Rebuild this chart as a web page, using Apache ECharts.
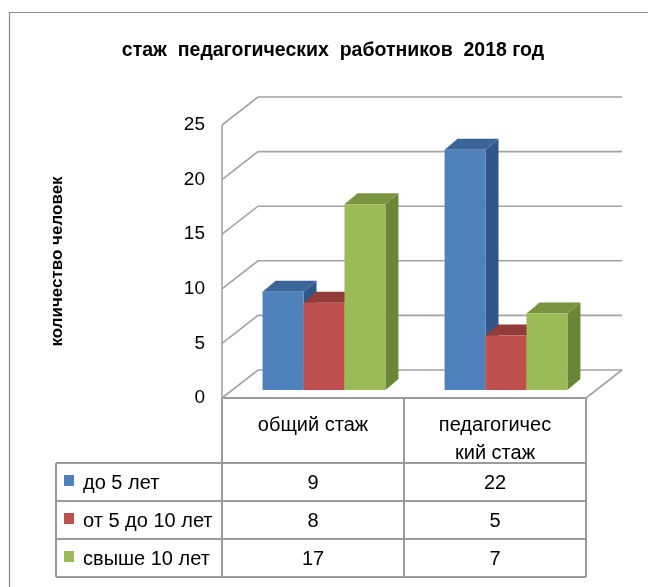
<!DOCTYPE html>
<html><head><meta charset="utf-8">
<script src="https://cdn.jsdelivr.net/npm/echarts@6/dist/echarts.min.js"></script>
<style>html,body{margin:0;padding:0;background:#fff}#c{width:648px;height:587px}</style>
</head><body><div id="c"></div>
<script>
// ---- data ----
const categories = ['общий стаж', 'педагогический стаж'];
const seriesNames = ['до 5 лет', 'от 5 до 10 лет', 'свыше 10 лет'];
const under5 = [9, 22];
const from5to10 = [8, 5];
const over10 = [17, 7];
const yTicks = [0, 5, 10, 15, 20, 25];
const titleText = 'стаж  педагогических  работников  2018 год';
const yTitle = 'количество человек';

// ---- style ----
const FONT = '"Liberation Sans", Arial, sans-serif';
const palette = [
  {front: '#4F81BD', top: '#3B6598', side: '#31578A'},
  {front: '#C0504D', top: '#933B39', side: '#8A3533'},
  {front: '#9BBB59', top: '#789440', side: '#6B8736'}
];
const GRID_C = '#a3a3a3';
const TABLE_C = '#9a9a9a';
const WALL = [36, -28];
const BAR_OFF = [11, -8];
const BAR_DEPTH = [13, -11];
const BAR_FRAC = 0.225;
const TFS = 20; // table font size

const seriesData = [under5, from5to10, over10];

function barRender(sIdx) {
  return function (params, api) {
    const cat = api.value(0), v = api.value(1);
    const base = api.coord([cat, 0]);
    const topP = api.coord([cat, v]);
    const bw = api.size([1, 0])[0] * BAR_FRAC;
    const x0 = base[0] - 1.5 * bw + sIdx * bw + BAR_OFF[0];
    const x1 = x0 + bw;
    const yb = base[1] + BAR_OFF[1], yt = topP[1] + BAR_OFF[1];
    const dx = BAR_DEPTH[0], dy = BAR_DEPTH[1];
    const c = palette[sIdx];
    return {type: 'group', children: [
      {type: 'polygon', shape: {points: [[x1, yb], [x1 + dx, yb + dy], [x1 + dx, yt + dy], [x1, yt]]}, style: {fill: c.side}},
      {type: 'polygon', shape: {points: [[x0, yt], [x0 + dx, yt + dy], [x1 + dx, yt + dy], [x1, yt]]}, style: {fill: c.top}},
      {type: 'rect', shape: {x: x0, y: yt, width: bw, height: yb - yt}, style: {fill: c.front}}
    ]};
  };
}

function gridRender(params, api) {
  const cs = params.coordSys;
  const t = api.value(1);
  const y = api.coord([0, t])[1];
  const L = cs.x, R = cs.x + cs.width;
  const st = {stroke: GRID_C, lineWidth: 1.6, fill: null};
  const children = [{type: 'polyline', shape: {points: [[L, y], [L + WALL[0], y + WALL[1]], [R + WALL[0], y + WALL[1]]]}, style: st}];
  if (t === yTicks[0]) {
    const yTop = api.coord([0, yTicks[yTicks.length - 1]])[1];
    children.push({type: 'line', shape: {x1: R, y1: y, x2: R + WALL[0], y2: y + WALL[1]}, style: st});
    children.push({type: 'line', shape: {x1: L, y1: y, x2: L, y2: yTop}, style: st});
  }
  return {type: 'group', children};
}

// simple character wrap (like a spreadsheet cell wrapping long words)
const measureCtx = document.createElement('canvas').getContext('2d');
function wrapText(str, font, maxW) {
  measureCtx.font = font;
  const lines = [];
  let cur = '';
  const words = str.split(' ');
  words.forEach((w) => {
    const cand = cur ? cur + ' ' + w : w;
    if (measureCtx.measureText(cand).width <= maxW) { cur = cand; return; }
    if (cur) { lines.push(cur); cur = ''; }
    let piece = '';
    for (const ch of w) {
      if (measureCtx.measureText(piece + ch).width > maxW && piece) { lines.push(piece); piece = ch; }
      else piece += ch;
    }
    cur = piece;
  });
  if (cur) lines.push(cur);
  return lines.join('\n');
}

const chart = echarts.init(document.getElementById('c'), null, {renderer: 'canvas'});
const option = {
  animation: false,
  backgroundColor: '#fff',
  title: {
    text: titleText, left: 328, top: 36, textAlign: 'center',
    textStyle: {fontSize: 19.5, fontWeight: 'bold', fontFamily: FONT, color: '#000'}
  },
  grid: {left: 222, right: 62, top: 125, bottom: 189, outerBoundsMode: 'none', containLabel: false},
  xAxis: {
    type: 'category', data: categories,
    axisLine: {show: false}, axisTick: {show: false}, splitLine: {show: false},
    axisLabel: {show: false}
  },
  yAxis: {
    type: 'value', min: 0, max: 25, interval: 5,
    axisLine: {show: false}, axisTick: {show: false}, splitLine: {show: false},
    axisLabel: {fontSize: 19, fontFamily: FONT, color: '#000', margin: 17},
    name: yTitle, nameLocation: 'middle', nameGap: 156,
    nameTextStyle: {fontSize: 17, fontWeight: 'bold', fontFamily: FONT, color: '#000'}
  },
  series: [
    {type: 'custom', silent: true, z: 1, data: yTicks.map(t => [0, t]), renderItem: gridRender}
  ].concat(seriesData.map((arr, s) => ({
    type: 'custom', name: seriesNames[s], z: 2 + s, silent: true,
    data: arr.map((v, i) => [i, v]), renderItem: barRender(s)
  })))
};
chart.setOption(option);

// ---- data table (below the plot) ----
const colX = categories.map(c => chart.convertToPixel({xAxisIndex: 0}, c));
const y0 = chart.convertToPixel({yAxisIndex: 0}, 0);
const gridL = 222, gridR = 648 - 62, tableL = 56;
const bandW = (gridR - gridL) / categories.length;
const headerBottom = 463, rowH = 38;
const g = [];
const ls = {stroke: TABLE_C, lineWidth: 2};
g.push({type: 'rect', shape: {x: 9.5, y: 12.5, width: 800, height: 800}, style: {stroke: '#8a8a8a', lineWidth: 1.2, fill: null}, z: 0});
g.push({type: 'line', shape: {x1: gridL, y1: y0, x2: gridR, y2: y0}, style: ls});
for (let i = 0; i <= categories.length; i++) {
  const x = gridL + i * bandW;
  g.push({type: 'line', shape: {x1: x, y1: y0, x2: x, y2: headerBottom + rowH * seriesNames.length}, style: ls});
}
g.push({type: 'line', shape: {x1: tableL, y1: headerBottom, x2: tableL, y2: headerBottom + rowH * seriesNames.length}, style: ls});
for (let r = 0; r <= seriesNames.length; r++) {
  const y = headerBottom + r * rowH;
  g.push({type: 'line', shape: {x1: tableL, y1: y, x2: gridR, y2: y}, style: ls});
}
categories.forEach((c, i) => {
  g.push({type: 'text', x: colX[i], y: y0 + 13, style: {
    text: wrapText(c, TFS + 'px "Liberation Sans"', 120), fontSize: TFS, fontFamily: FONT, fill: '#000',
    align: 'center', verticalAlign: 'top', lineHeight: 28}});
});
seriesNames.forEach((name, r) => {
  const cy = headerBottom + r * rowH + rowH / 2;
  g.push({type: 'rect', shape: {x: 64, y: cy - 7, width: 10, height: 11}, style: {fill: palette[r].front}});
  g.push({type: 'text', x: 83, y: cy + 1, style: {text: name, fontSize: TFS, fontFamily: FONT, fill: '#000', align: 'left', verticalAlign: 'middle'}});
  seriesData[r].forEach((v, i) => {
    g.push({type: 'text', x: colX[i], y: cy + 1, style: {text: String(v), fontSize: TFS, fontFamily: FONT, fill: '#000', align: 'center', verticalAlign: 'middle'}});
  });
});
chart.setOption({graphic: {elements: g}});
</script>
</body></html>
